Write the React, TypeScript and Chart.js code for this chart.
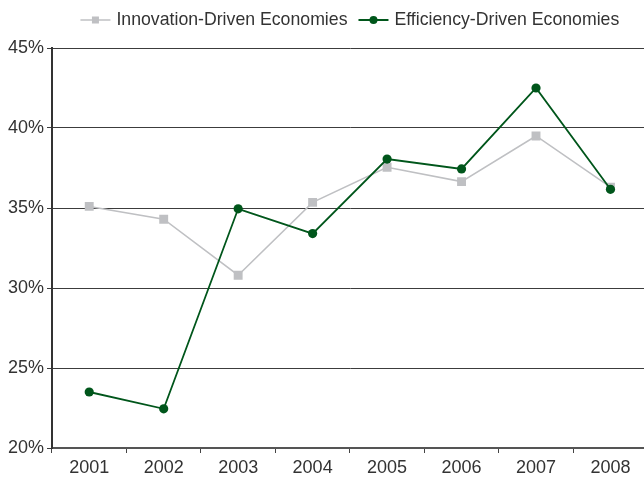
import React, { useEffect, useRef } from "react";
import { Chart, registerables } from "chart.js";

Chart.register(...registerables);

const years = ["2001", "2002", "2003", "2004", "2005", "2006", "2007", "2008"];
const innovationValues = [35.1, 34.3, 30.8, 35.35, 37.55, 36.65, 39.5, 36.3];
const efficiencyValues = [23.5, 22.45, 34.95, 33.4, 38.06, 37.44, 42.5, 36.17];
const seriesNames = ["Innovation-Driven Economies", "Efficiency-Driven Economies"];
const yMin = 20;
const yMax = 45;
const yStep = 5;

const GRAY = "#bfc0c3";
const GREEN = "#00561b";
const TEXT = "#333333";
const FONT_FAMILY = "'Liberation Sans', Arial, sans-serif";
const CANVAS_W = 654;
const CANVAS_H = 481;

const legendPlugin = {
  id: "lineLegend",
  afterDraw(chart: any) {
    const ctx = chart.ctx as CanvasRenderingContext2D;
    const area = chart.chartArea;
    ctx.save();
    ctx.font = `17.7px ${FONT_FAMILY}`;
    ctx.textBaseline = "middle";
    ctx.textAlign = "left";
    const symW = 30;
    const gap = 6;
    const itemGap = 11;
    const widths = seriesNames.map((n) => ctx.measureText(n).width);
    const total = widths.reduce((a, w) => a + symW + gap + w, 0) + itemGap;
    let x = (area.left + area.right) / 2 - total / 2;
    const y = 20;
    seriesNames.forEach((name, i) => {
      const color = i === 0 ? GRAY : GREEN;
      ctx.strokeStyle = color;
      ctx.lineWidth = i === 0 ? 1.5 : 2;
      ctx.beginPath();
      ctx.moveTo(x, y);
      ctx.lineTo(x + symW, y);
      ctx.stroke();
      ctx.fillStyle = color;
      if (i === 0) {
        ctx.fillRect(x + symW / 2 - 3.5, y - 3.5, 7, 7);
      } else {
        ctx.beginPath();
        ctx.arc(x + symW / 2, y, 4, 0, Math.PI * 2);
        ctx.fill();
      }
      ctx.fillStyle = TEXT;
      ctx.fillText(name, x + symW + gap, y);
      x += symW + gap + widths[i] + itemGap;
    });
    ctx.restore();
  },
};

export default function App() {
  const ref = useRef<HTMLCanvasElement | null>(null);

  useEffect(() => {
    document.body.style.margin = "0";
    document.body.style.overflow = "hidden";
    if (!ref.current) return;
    const chart = new Chart(ref.current, {
      type: "line",
      data: {
        labels: years,
        datasets: [
          {
            label: seriesNames[0],
            data: innovationValues,
            borderColor: GRAY,
            backgroundColor: GRAY,
            borderWidth: 1.5,
            pointStyle: "rect",
            pointRadius: 6.3,
            pointBorderWidth: 0,
            pointBackgroundColor: GRAY,
            tension: 0,
            order: 1,
          },
          {
            label: seriesNames[1],
            data: efficiencyValues,
            borderColor: GREEN,
            backgroundColor: GREEN,
            borderWidth: 1.8,
            pointStyle: "circle",
            pointRadius: 4.6,
            pointBorderWidth: 0,
            pointBackgroundColor: GREEN,
            tension: 0,
            order: 0,
          },
        ],
      },
      options: {
        responsive: false,
        animation: false,
        devicePixelRatio: 1,
        layout: { padding: { top: 48, left: 0, right: 0, bottom: 0 } },
        plugins: {
          legend: { display: false },
          tooltip: { enabled: false },
        },
        scales: {
          x: {
            type: "category",
            offset: true,
            grid: {
              offset: true,
              drawOnChartArea: false,
              drawTicks: true,
              tickLength: 5,
              color: "#444444",
            },
            border: { display: true, color: "#555555", width: 2 },
            ticks: {
              color: TEXT,
              font: { family: FONT_FAMILY, size: 18 },
              padding: 4,
              maxRotation: 0,
            },
            afterFit(scale: any) {
              scale.height = 33;
            },
          },
          y: {
            min: yMin,
            max: yMax,
            grid: {
              color: "#3c3c3c",
              lineWidth: 1,
              drawTicks: true,
              tickLength: 5,
            },
            border: { display: true, color: "#333333", width: 2 },
            ticks: {
              stepSize: yStep,
              color: TEXT,
              font: { family: FONT_FAMILY, size: 18 },
              padding: 3,
              callback: (v: any) => `${v}%`,
            },
            afterFit(scale: any) {
              scale.width = 52;
            },
          },
        },
      },
      plugins: [legendPlugin],
    });
    return () => chart.destroy();
  }, []);

  return (
    <div style={{ width: CANVAS_W, height: CANVAS_H, overflow: "visible" }}>
      <canvas ref={ref} width={CANVAS_W} height={CANVAS_H} style={{ display: "block" }} />
    </div>
  );
}
